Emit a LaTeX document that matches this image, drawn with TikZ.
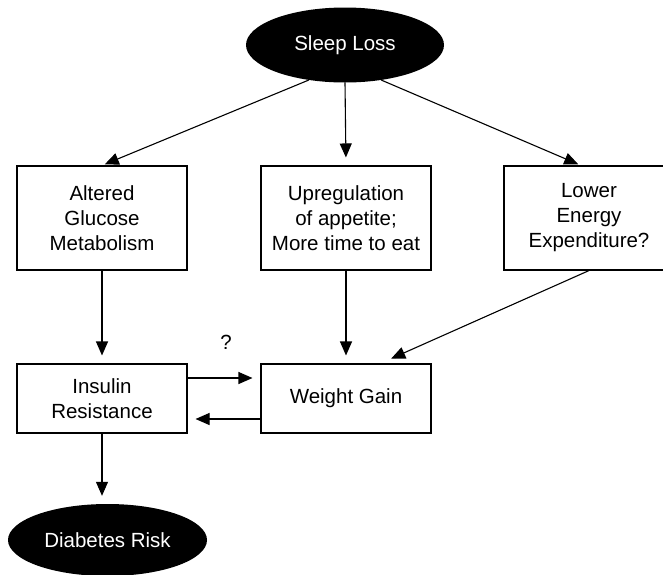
\documentclass[tikz,border=0pt]{standalone}
\usepackage{fontspec}
\setmainfont{Liberation Sans}
\usetikzlibrary{arrows.meta,shapes.geometric,calc}
\begin{document}
\begin{tikzpicture}[x=1pt,y=-1pt,
  every node/.style={font=\fontsize{20.5}{25}\selectfont},
  box/.style={draw,line width=1.1pt,minimum width=170pt,minimum height=104pt,align=center,inner sep=0pt},
  sbox/.style={draw,line width=1.1pt,minimum width=170pt,minimum height=69pt,align=center,inner sep=0pt},
  oval/.style={ellipse,fill=black,text=white,inner sep=0pt},
  arr/.style={line width=1.1pt,-{Triangle[length=14pt,width=12pt]},shorten >=8pt}]
\useasboundingbox (0,0) rectangle (663,574);
\fill[white] (0,0) rectangle (663,574);
\node[oval,minimum width=198pt,minimum height=75pt] (sl) at (345,45) {Sleep Loss};
\node[box] (b1) at (102,218) {Altered\\Glucose\\Metabolism};
\node[box] (b2) at (346,218) {Upregulation\\of appetite;\\More time to eat};
\node[box] (b3) at (589,218) {Lower\\Energy\\Expenditure?};
\node[sbox] (ir) at (102,398.5) {Insulin\\Resistance};
\node[sbox] (wg) at (346,398.5) {Weight Gain};
\node[oval,minimum width=199pt,minimum height=72pt] (dr) at (107.5,540) {Diabetes Risk};
\node (q) at (226,342) {?};
\draw[arr,shorten >=3pt] (sl.224) -- (b1.north);
\draw[arr] (sl.south) -- (b2.north);
\draw[arr,shorten >=3pt] (sl.316) -- ([xshift=-8pt]b3.north);
\draw[arr] (b1.south) -- (ir.north);
\draw[arr] (b2.south) -- (wg.north);
\draw[arr,shorten >=12pt] (b3.south) -- ($(wg.north)!0.4!(wg.north east)$);
\draw[arr] ([yshift=20.5pt]ir.east) -- ([yshift=20.5pt]wg.west);
\draw[arr] ([yshift=-20.5pt]wg.west) -- ([yshift=-20.5pt]ir.east);
\draw[arr] (ir.south) -- (ir.south |- dr.north);
\end{tikzpicture}
\end{document}
